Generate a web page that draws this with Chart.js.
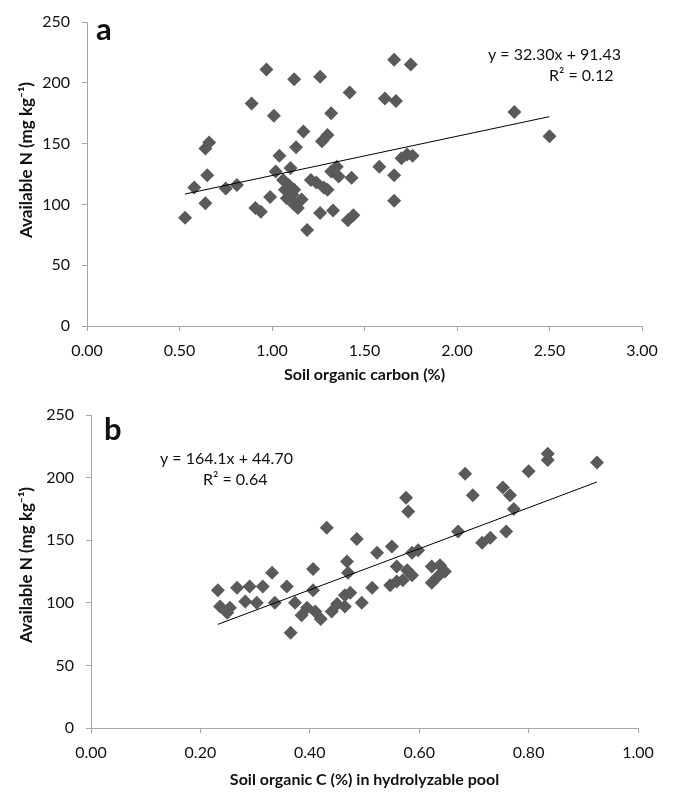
<!DOCTYPE html>
<html>
<head>
<meta charset="utf-8">
<script src="https://cdn.jsdelivr.net/npm/chart.js@4"></script>
<style>
  body { margin: 0; background: #fff; }
  #wrap { position: relative; width: 675px; height: 793px; }
  canvas { position: absolute; left: 0; }
  #chartA { top: 0; }
  #chartB { top: 393px; }
</style>
</head>
<body>
<div id="wrap">
  <canvas id="chartA" width="675" height="400"></canvas>
  <canvas id="chartB" width="675" height="400"></canvas>
</div>
<script>
// panel a: soil organic carbon (%) vs available N
const socA = [0.53, 0.58, 0.64, 0.65, 0.64, 0.66, 0.75, 0.81, 0.89, 0.91, 0.94, 0.97, 0.99, 1.01, 1.02,
  1.04, 1.07, 1.08, 1.09, 1.10, 1.11, 1.12, 1.12, 1.13, 1.14, 1.12, 1.17, 1.19, 1.21, 1.26, 1.26,
  1.27, 1.30, 1.28, 1.30, 1.32, 1.32, 1.33, 1.36, 1.35, 1.42, 1.41, 1.44, 1.43, 1.58, 1.61, 1.66,
  1.67, 1.66, 1.66, 1.70, 1.73, 1.76, 1.75, 2.31, 2.50, 1.24, 1.06, 1.16];
const availNA = [89, 114, 101, 124, 146, 151, 113, 116, 183, 97, 94, 211, 106, 173, 127,
  140, 112, 105, 116, 130, 108, 203, 100, 147, 97, 112, 160, 79, 120, 205, 93,
  152, 157, 114, 112, 175, 127, 95, 123, 131, 192, 87, 91, 122, 131, 187, 219,
  185, 124, 103, 138, 141, 140, 215, 176, 156, 118, 120, 104];
const slopeA = 32.30, interceptA = 91.43;

// panel b: soil organic C (%) in hydrolyzable pool vs available N
const socB = [0.232, 0.236, 0.254, 0.249, 0.267, 0.282, 0.29, 0.303, 0.314, 0.331, 0.336, 0.358,
  0.365, 0.373, 0.385, 0.395, 0.406, 0.406, 0.41, 0.42, 0.431, 0.44, 0.464, 0.464, 0.468, 0.47,
  0.486, 0.495, 0.514, 0.523, 0.55, 0.547, 0.559, 0.57, 0.559, 0.578, 0.587, 0.576, 0.58, 0.587,
  0.598, 0.623, 0.623, 0.634, 0.638, 0.647, 0.671, 0.684, 0.698, 0.715, 0.73, 0.753, 0.759,
  0.766, 0.773, 0.80, 0.835, 0.835, 0.925, 0.474, 0.45];
const availNB = [110, 97, 96, 92, 112, 101, 113, 100, 113, 124, 100, 113,
  76, 100, 90, 96, 110, 127, 93, 87, 160, 93, 97, 106, 133, 124,
  151, 100, 112, 140, 145, 114, 117, 118, 129, 126, 122, 184, 173, 140,
  142, 116, 129, 121, 130, 125, 157, 203, 186, 148, 152, 192, 157,
  186, 175, 205, 219, 214, 212, 108, 99];
const slopeB = 164.1, interceptB = 44.70;

const yTicks = [0, 50, 100, 150, 200, 250];

const FONT = 'Lato, "Open Sans", sans-serif';
const AXIS = '#a6a6a6';
const MARK = '#5a5a5a';

function pts(xs, ys) { return xs.map((x, i) => ({ x: x, y: ys[i] })); }
function trend(xs, m, b) {
  const lo = Math.min(...xs), hi = Math.max(...xs);
  return [{ x: lo, y: m * lo + b }, { x: hi, y: m * hi + b }];
}

// panel letter, equation and axis titles
function textPlugin(items, xTitle, xTitleY, yTitleX, yTitleY) {
  return {
    id: 'labels',
    afterDraw(chart) {
      const ctx = chart.ctx;
      const area = chart.chartArea;
      ctx.save();
      ctx.fillStyle = '#111';
      ctx.textBaseline = 'alphabetic';
      ctx.textAlign = 'left';
      items.forEach(t => {
        ctx.font = t.font;
        ctx.fillText(t.text, t.x, t.y);
      });
      ctx.textAlign = 'center';
      ctx.textBaseline = 'middle';
      ctx.font = 'bold 16px ' + FONT;
      ctx.fillText(xTitle, (area.left + area.right) / 2, xTitleY);
      ctx.translate(yTitleX, yTitleY);
      ctx.rotate(-Math.PI / 2);
      ctx.font = 'bold 17px ' + FONT;
      ctx.fillText('Available N (mg kg\u207B\u00B9)', 0, 0);
      ctx.restore();
    }
  };
}

function makeChart(id, xs, ys, m, b, xMax, xStep, padR, xAxisH, yAxisW, plugin) {
  return new Chart(document.getElementById(id), {
    type: 'scatter',
    data: {
      datasets: [
        {
          data: pts(xs, ys),
          pointStyle: 'rectRot',
          pointRadius: 7,
          pointBackgroundColor: MARK,
          pointBorderColor: MARK,
          pointBorderWidth: 0,
          order: 2
        },
        {
          type: 'line',
          data: trend(xs, m, b),
          borderColor: '#000',
          borderWidth: 1,
          pointRadius: 0,
          fill: false,
          order: 1
        }
      ]
    },
    options: {
      responsive: false,
      animation: false,
      events: [],
      layout: { padding: { left: 0, right: padR, top: 22, bottom: 0 } },
      plugins: { legend: { display: false }, tooltip: { enabled: false } },
      scales: {
        x: {
          type: 'linear', min: 0, max: xMax,
          afterFit(s) { s.height = xAxisH; },
          afterBuildTicks(s) {
            const t = [];
            for (let v = 0; v <= xMax + 1e-9; v += xStep) t.push({ value: +v.toFixed(2) });
            s.ticks = t;
          },
          grid: { drawOnChartArea: false, color: AXIS, tickLength: 5 },
          border: { color: AXIS, width: 1 },
          ticks: { color: '#111', font: { family: FONT, size: 16 }, padding: 10,
                   maxRotation: 0, callback: v => v.toFixed(2) }
        },
        y: {
          type: 'linear', min: 0, max: 250,
          afterFit(s) { s.width = yAxisW; },
          afterBuildTicks(s) { s.ticks = yTicks.map(v => ({ value: v })); },
          grid: { drawOnChartArea: false, color: AXIS, tickLength: 5 },
          border: { color: AXIS, width: 1 },
          ticks: { color: '#111', font: { family: FONT, size: 16 }, padding: 12 }
        }
      }
    },
    plugins: [plugin]
  });
}

makeChart('chartA', socA, availNA, slopeA, interceptA, 3, 0.5,
  675 - 642, 400 - 326, 87,
  textPlugin([
    { text: 'a', x: 96, y: 40, font: 'bold 31px ' + FONT },
    { text: 'y = 32.30x + 91.43', x: 488, y: 60, font: '16px ' + FONT },
    { text: 'R\u00B2 = 0.12', x: 549, y: 81, font: '16px ' + FONT }
  ], 'Soil organic carbon (%)', 375, 27, 160));

makeChart('chartB', socB, availNB, slopeB, interceptB, 1, 0.2,
  675 - 638, 400 - 335, 91,
  textPlugin([
    { text: 'b', x: 104, y: 47, font: 'bold 31px ' + FONT },
    { text: 'y = 164.1x + 44.70', x: 160, y: 71, font: '16px ' + FONT },
    { text: 'R\u00B2 = 0.64', x: 203, y: 92, font: '16px ' + FONT }
  ], 'Soil organic C (%) in hydrolyzable pool', 387, 27, 172));
</script>
</body>
</html>
